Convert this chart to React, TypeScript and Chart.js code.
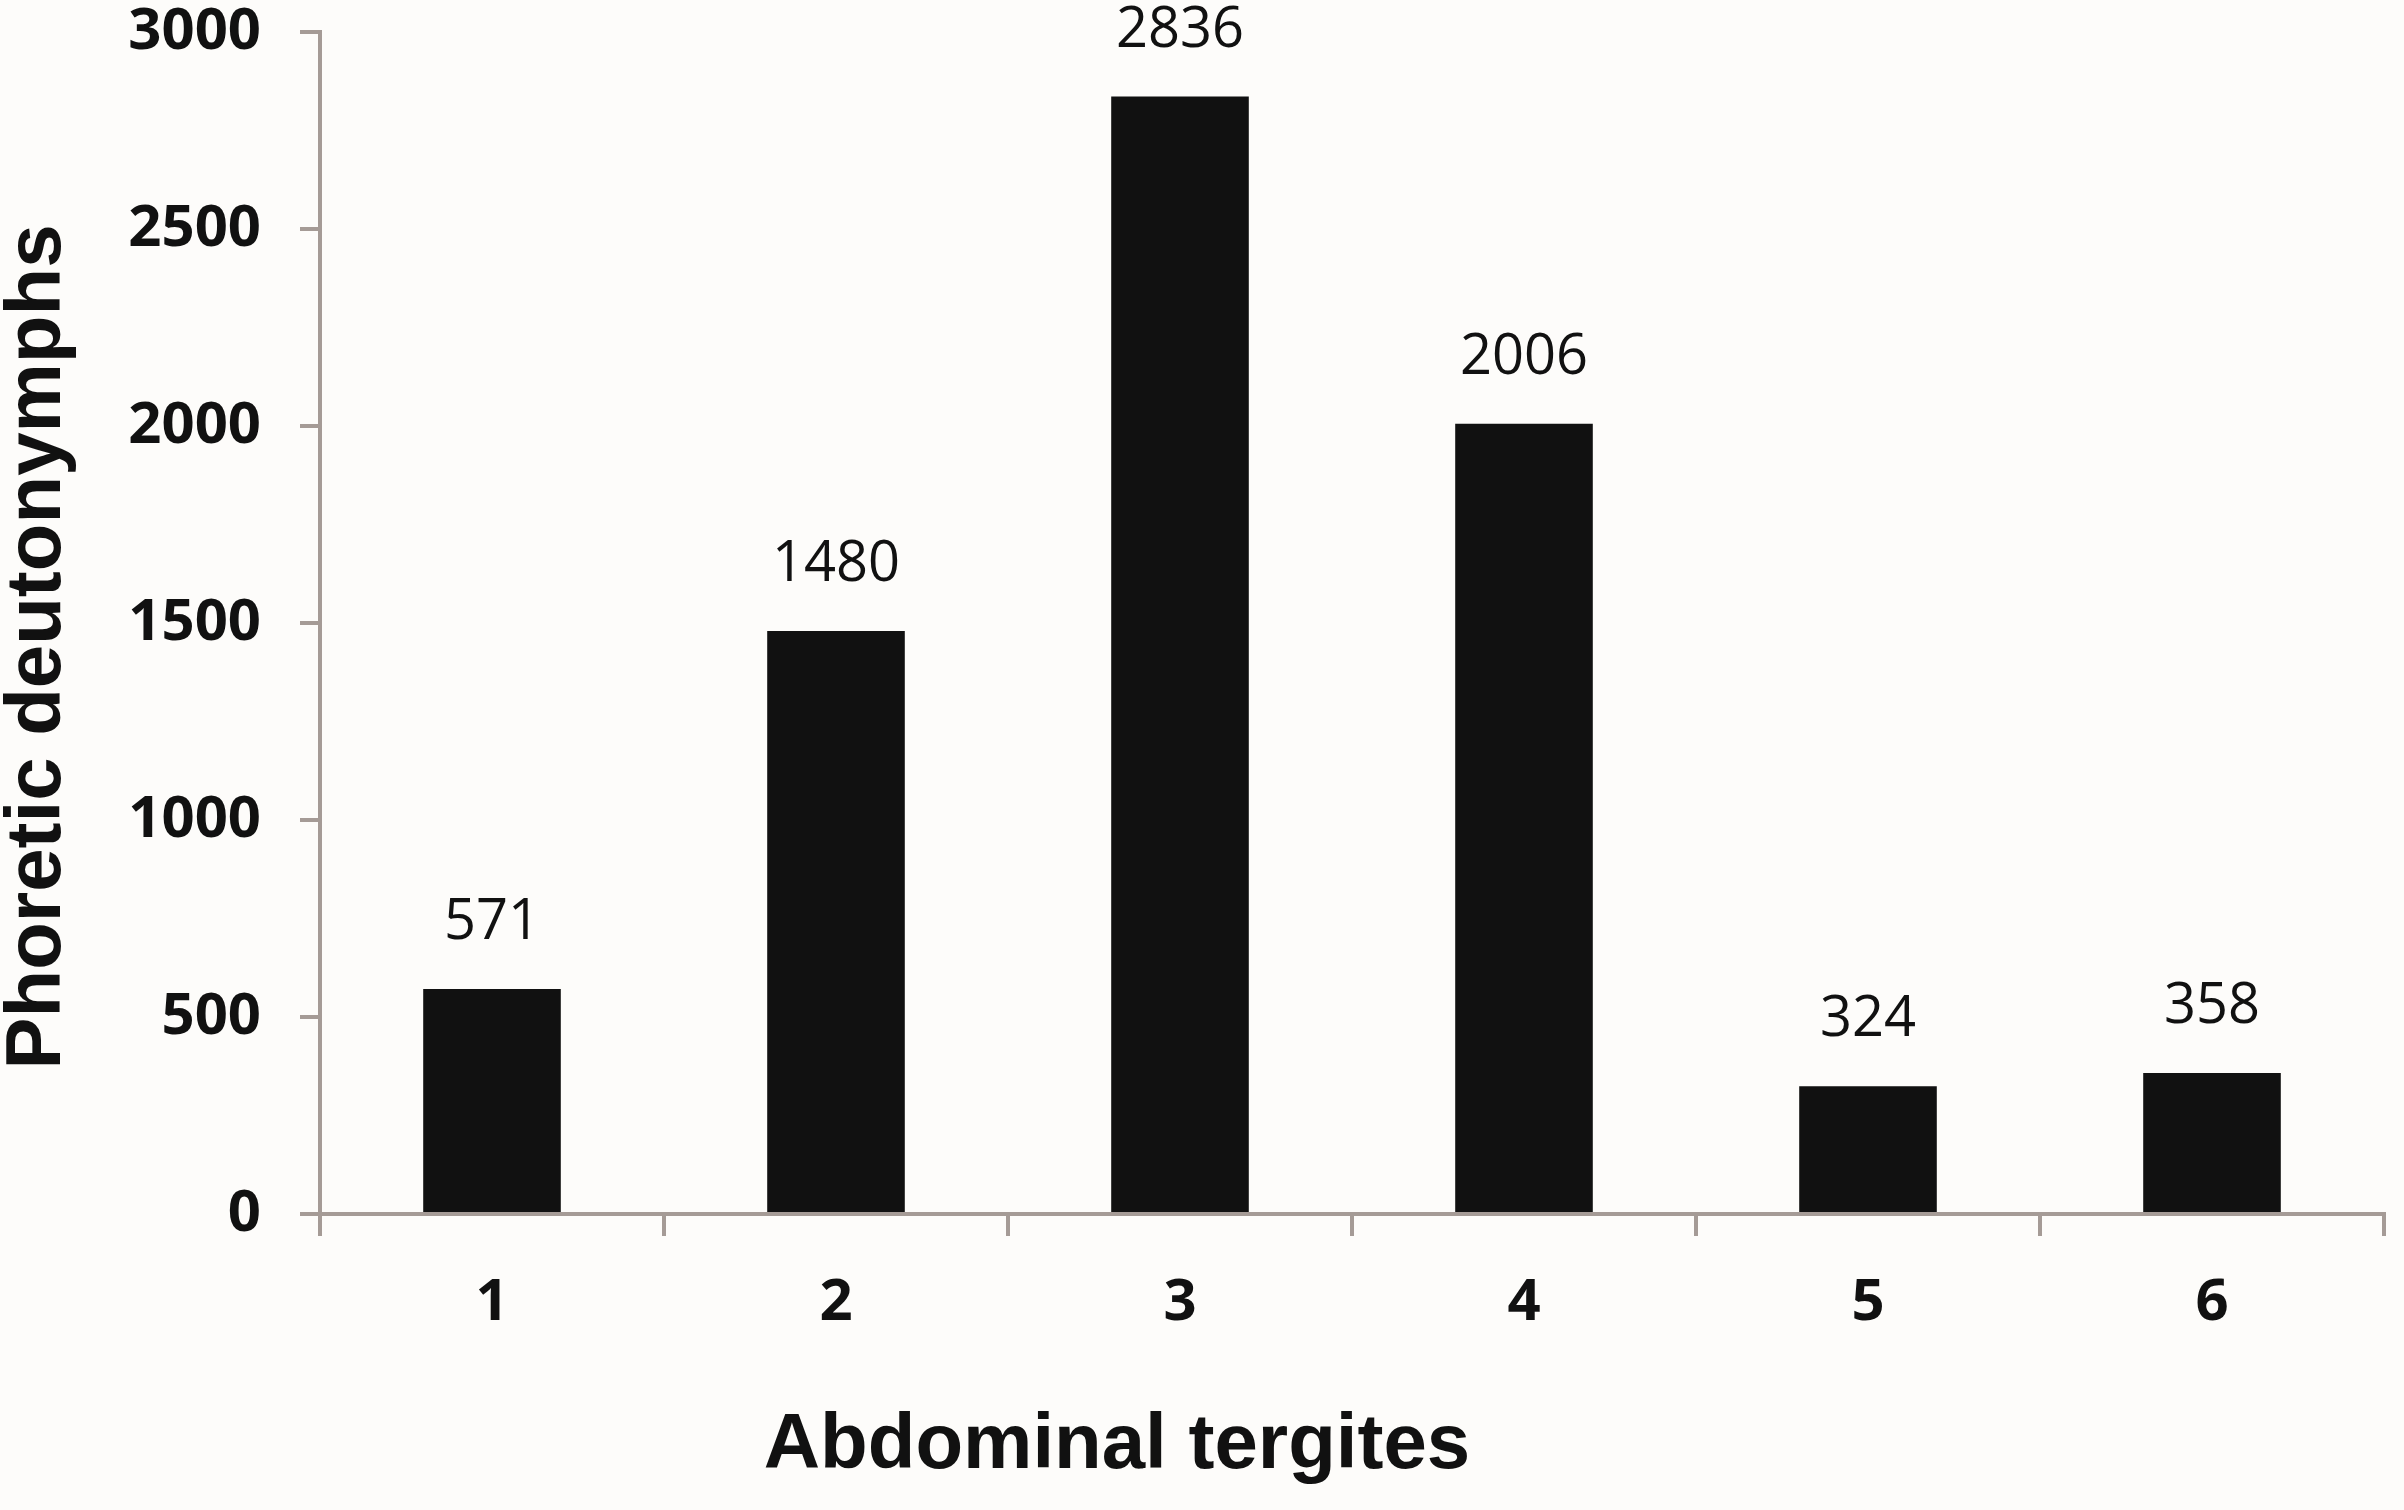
import React, { useEffect, useRef } from "react";
import { Chart, registerables } from "chart.js";

Chart.register(...registerables);

const categories = ["1", "2", "3", "4", "5", "6"];
const values = [571, 1480, 2836, 2006, 324, 358];
const yMin = 0;
const yMax = 3000;
const yStep = 500;
const xTitle = "Abdominal tergites";
const yTitle = "Phoretic deutonymphs";

const AXIS = "#a59b96";
const INK = "#111111";
const SHIFT = 36; // canvas extends above the page top by this many px

export default function App() {
  const ref = useRef<HTMLCanvasElement | null>(null);

  useEffect(() => {
    if (!ref.current) return;
    const extras = {
      id: "extras",
      beforeDraw(chart: any) {
        const { ctx, width, height } = chart;
        ctx.save();
        ctx.fillStyle = "#fdfcfa";
        ctx.fillRect(0, 0, width, height);
        ctx.restore();
      },
      afterDatasetsDraw(chart: any) {
        const { ctx } = chart;
        const meta = chart.getDatasetMeta(0);
        ctx.save();
        ctx.fillStyle = INK;
        ctx.font = '56px "Open Sans"';
        ctx.textAlign = "center";
        ctx.textBaseline = "middle";
        meta.data.forEach((bar: any, i: number) => {
          ctx.fillText(String(values[i]), bar.x, bar.y - 66);
        });
        // axis titles
        ctx.font = 'bold 78px "Liberation Sans"';
        ctx.fillText(xTitle, 1117, 1446 + SHIFT);
        ctx.translate(38, 647 + SHIFT);
        ctx.rotate(-Math.PI / 2);
        ctx.fillText(yTitle, 0, 0);
        ctx.restore();
      },
    };

    const chart = new Chart(ref.current, {
      type: "bar",
      data: {
        labels: categories,
        datasets: [
          {
            data: values,
            backgroundColor: INK,
            borderWidth: 0,
            barPercentage: 0.4,
            categoryPercentage: 1,
          },
        ],
      },
      options: {
        animation: false,
        responsive: false,
        maintainAspectRatio: false,
        layout: { padding: { top: 31, right: 20, left: 0, bottom: 0 } },
        plugins: {
          legend: { display: false },
          tooltip: { enabled: false },
          title: { display: false },
        },
        scales: {
          x: {
            grid: {
              drawOnChartArea: false,
              drawTicks: true,
              tickLength: 22,
              color: AXIS,
              lineWidth: 4,
              offset: true,
            },
            border: { color: AXIS, width: 4 },
            ticks: {
              color: INK,
              font: { family: "Open Sans", weight: "bold", size: 58, lineHeight: 1 },
              padding: 38,
            },
            afterFit: (s: any) => {
              s.height = 296;
            },
          },
          y: {
            min: yMin,
            max: yMax,
            grid: {
              drawOnChartArea: false,
              drawTicks: true,
              tickLength: 20,
              color: AXIS,
              lineWidth: 4,
            },
            border: { color: AXIS, width: 4 },
            ticks: {
              stepSize: yStep,
              color: INK,
              font: { family: "Open Sans", weight: "bold", size: 58, lineHeight: 1 },
              padding: 39,
              callback: (v: any) => String(v),
            },
            afterFit: (s: any) => {
              s.width = 320;
            },
          },
        },
      },
      plugins: [extras],
    });
    return () => chart.destroy();
  }, []);

  return (
    <div style={{ position: "fixed", left: 0, top: -SHIFT, width: 2404, height: 1510 + SHIFT, overflow: "hidden" }}>
      <canvas
        ref={ref}
        width={2404}
        height={1510 + SHIFT}
        style={{ width: 2404, height: 1510 + SHIFT, display: "block" }}
      />
    </div>
  );
}
